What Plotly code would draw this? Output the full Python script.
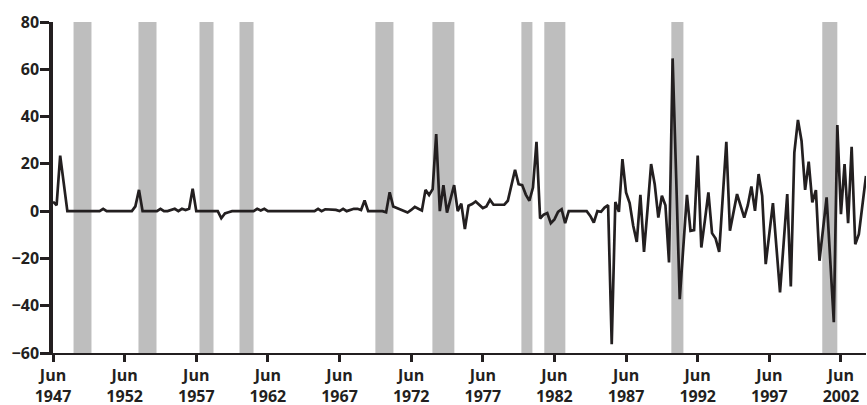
import pandas as pd
import plotly.graph_objects as go

# Quarterly series, Jun 1947 .. Mar 2004
values = [
    4, 2.5, 23.5, 11, 0, 0, 0, 0, 0, 0,
    0, 0, 0, 0, 1, 0, 0, 0, 0, 0,
    0, 0, 0, 2, 9, 0, 0, 0, 0, 0,
    1, 0, 0, 0.5, 1, 0, 1, 0.5, 1, 9.5,
    0, 0, 0, 0, 0, 0, 0, -3, -1, -0.5,
    0, 0, 0, 0, 0, 0, 0, 1, 0.3, 1,
    0, 0, 0, 0, 0, 0, 0, 0, 0, 0,
    0, 0, 0, 0, 1, 0, 0.8, 0.8, 0.8, 0.5,
    0, 1, 0, 0.5, 1, 1, 0.5, 4.5, 0, 0,
    0, 0, 0, -0.5, 8, 2, 1.3, 0.6, 0, -0.6,
    0.5, 1.8, 1, 0.3, 9, 6.8, 9.3, 32.6, 0, 11,
    -0.6, 5, 11, 0, 3.2, -7.6, 2.3, 3, 4.1, 2.7,
    1.3, 2, 4.8, 2.7, 2.7, 2.7, 2.7, 4.4, 11, 17.5,
    11.4, 11, 7, 4.4, 10, 29.3, -3.1, -1.5, -0.8, -5.1,
    -3.5, -0.3, 0.8, -5.1, 0, 0, 0, 0, 0, 0,
    -2, -4.8, 0, -0.3, 1.5, 2.5, -56.3, 3.9, -0.3, 22,
    7.9, 3.4, -6.2, -13, 6.9, -17.2, 1, 19.9, 11.4, -2.7,
    6.5, 2.5, -21.7, 64.6, 14, -37.2, -15, 6.9, -8.3, -8,
    23.5, -15.4, -4, 7.9, -9.3, -11.6, -17.2, 6, 29.3, -8.3,
    -0.5, 7.2, 2.2, -2.7, 2.5, 10.4, 0.1, 15.7, 6.5, -22.4,
    -9.5, 3.4, -15.5, -34.4, -13.6, 7.2, -31.9, 24.8, 38.6, 29.7,
    9, 20.9, 3.7, 8.9, -21, -7.6, 5.8, -20.6, -47, 36.4,
    -1.3, 19.9, -5.1, 27.2, -14, -9.7, 2.6, 14.9,
]
start_date = "1947-06-01"
dates = pd.date_range(start_date, periods=len(values), freq="3MS").strftime("%Y-%m-%d").tolist()

# Recession shading (start, end)
rec_start = ["1948-11-06", "1953-05-19", "1957-08-22", "1960-06-07", "1969-12-01",
             "1973-11-24", "1980-02-10", "1981-09-16", "1990-07-30", "2001-02-10"]
rec_end = ["1950-02-06", "1954-08-22", "1958-08-14", "1961-05-31", "1971-03-07",
           "1975-06-07", "1980-11-17", "1983-03-07", "1991-06-03", "2002-03-01"]

tick_years = [1947, 1952, 1957, 1962, 1967, 1972, 1977, 1982, 1987, 1992, 1997, 2002]
tick_vals = [f"{y}-06-01" for y in tick_years]
tick_text = [f"Jun<br>{y}" for y in tick_years]
y_ticks = [-60, -40, -20, 0, 20, 40, 60, 80]

ink = "#231f20"
fig = go.Figure()
fig.add_trace(go.Scatter(x=dates, y=values, mode="lines",
                         line=dict(color=ink, width=2.7), hoverinfo="skip"))

for s, e in zip(rec_start, rec_end):
    fig.add_shape(type="rect", xref="x", yref="y", x0=s, x1=e, y0=-60, y1=80,
                  fillcolor="#bebebe", line=dict(width=0), layer="below")

fnt = dict(family="Open Sans, Noto Sans, sans-serif", size=16, color=ink, weight="bold")
fig.update_layout(
    width=867, height=405,
    margin=dict(l=53, r=1, t=22, b=52),
    paper_bgcolor="white", plot_bgcolor="white",
    showlegend=False,
    xaxis=dict(type="date", range=[dates[0], dates[-1]], automargin=False,
               tickvals=tick_vals, ticktext=tick_text,
               showline=True, linecolor=ink, linewidth=2,
               ticks="outside", ticklen=7, tickwidth=3, tickcolor=ink,
               showgrid=False, zeroline=False, tickfont=fnt),
    yaxis=dict(range=[-60, 80], tickvals=y_ticks, automargin=False,
               showline=True, linecolor=ink, linewidth=3.5,
               ticks="outside", ticklen=9, tickwidth=2.5, tickcolor=ink,
               ticklabelstandoff=-2,
               showgrid=False, zeroline=False, tickfont=fnt),
)
fig.write_html("out.html", config={"displayModeBar": False},
               post_script="document.body.style.margin='0';document.body.style.overflow='hidden';")
